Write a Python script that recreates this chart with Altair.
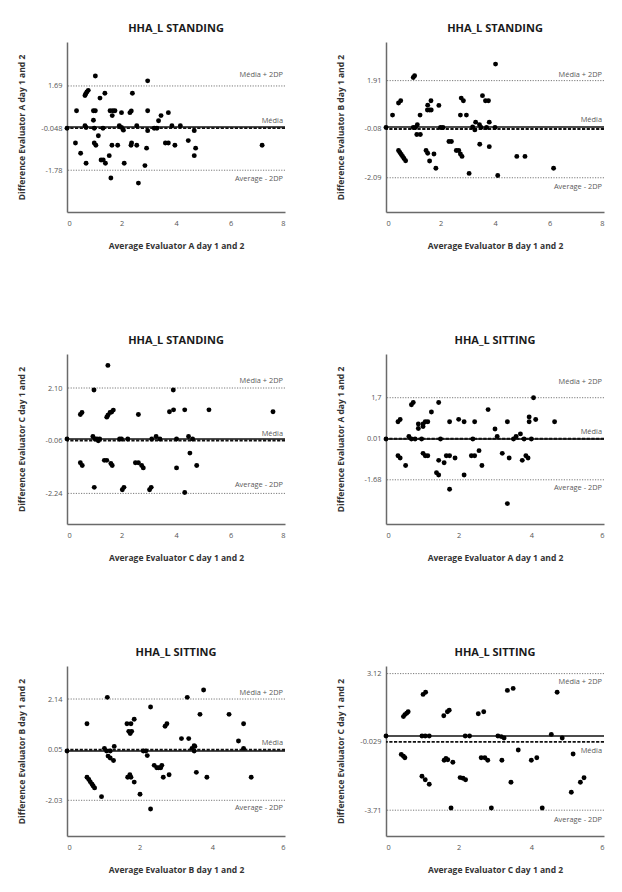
import altair as alt
import pandas as pd

FONT = "Open Sans"

# ---------------- Evaluator A, standing ----------------
a_stand_avg = [0.0, 1.04, 2.96, 0.66, 0.69, 0.73, 0.78, 1.39, 1.21, 2.40, 0.35, 0.97, 1.04, 0.97,
               1.58, 1.68, 1.76, 1.66, 2.00, 2.31, 2.36, 2.96, 3.45, 3.36, 3.72, 0.66, 0.70, 1.00,
               1.32, 1.92, 2.00, 2.07, 2.56, 2.96, 3.20, 3.30, 3.85, 4.16, 4.67, 1.15, 0.31, 1.00,
               1.06, 1.65, 1.86, 2.37, 2.35, 2.56, 2.92, 3.61, 3.72, 3.96, 4.45, 4.72, 4.67, 7.16,
               0.50, 0.70, 1.25, 1.33, 1.41, 1.55, 2.10, 2.86, 1.61, 2.62]
a_stand_diff = [-0.05, 2.10, 1.90, 1.30, 1.37, 1.44, 1.51, 1.39, 1.19, 1.39, 0.67, 0.67, 0.67, 0.28,
                0.67, 0.67, 0.67, 0.47, 0.59, 0.59, 0.66, 0.67, 0.47, 0.26, 0.59, 0.05, -0.02, -0.05,
                -0.05, 0.05, -0.02, -0.13, 0.05, -0.15, -0.05, -0.05, 0.05, 0.05, -0.15, -0.36, -0.66, -0.66,
                -0.75, -0.75, -0.75, -0.66, -0.75, -0.75, -0.87, -0.66, -0.66, -0.75, -0.56, -0.87, -1.18, -0.75,
                -1.08, -1.49, -1.36, -1.36, -1.49, -1.18, -1.49, -1.59, -2.10, -2.31]

# ---------------- Evaluator B, standing ----------------
b_stand_avg = [0.0, 4.02, 1.00, 1.05, 0.46, 0.54, 0.24, 0.46, 0.51, 0.56, 0.61, 0.66, 0.72, 1.00,
               1.08, 1.15, 1.13, 1.26, 1.25, 1.53, 1.52, 1.60, 1.66, 1.65, 1.94, 2.00, 2.09, 1.47,
               1.53, 1.60, 1.76, 1.83, 2.31, 2.40, 2.58, 2.67, 2.73, 2.79, 2.76, 2.84, 2.73, 2.95,
               3.05, 3.18, 3.26, 3.29, 3.43, 3.49, 3.54, 3.65, 3.76, 3.69, 3.79, 3.44, 3.79, 4.00,
               4.10, 4.80, 5.10, 6.15]
b_stand_diff = [-0.02, 2.59, 2.04, 2.11, 0.99, 1.08, 0.49, -0.97, -1.05, -1.13, -1.21, -1.30, -1.39, -0.02,
                -0.02, 0.09, -0.31, -0.31, 0.49, 0.90, 0.70, 0.70, 0.70, 1.08, 0.89, -0.02, -0.02, -0.97,
                -1.08, -1.40, -1.11, -1.70, -0.60, -0.60, -0.97, -0.97, -1.11, -1.21, 1.19, 1.08, 0.49, 0.49,
                -1.91, 0.0, -0.12, 0.20, 0.09, -0.02, 1.29, 1.08, 1.08, -0.02, 0.20, -0.71, -0.81, -0.02,
                -2.00, -1.21, -1.21, -1.70]

# ---------------- Evaluator C, standing ----------------
c_stand_avg = [0.0, 1.50, 0.99, 3.90, 0.49, 0.55, 1.46, 1.50, 1.58, 1.64, 1.70, 2.62, 3.76, 3.91,
               4.32, 5.21, 7.56, 0.95, 1.03, 1.10, 1.15, 1.20, 1.93, 2.00, 2.23, 3.11, 3.27, 3.41,
               4.02, 4.46, 4.61, 0.49, 0.56, 1.37, 1.46, 1.61, 1.66, 2.51, 2.62, 2.74, 2.80, 4.02,
               4.51, 4.76, 1.00, 2.03, 2.09, 3.03, 3.09, 4.32]
c_stand_diff = [0.0, 3.03, 2.02, 2.02, 1.01, 1.09, 0.90, 0.98, 1.09, 1.11, 1.19, 1.01, 1.12, 1.20,
                1.20, 1.20, 1.12, 0.10, 0.0, 0.0, -0.07, 0.0, 0.0, 0.0, 0.0, 0.0, 0.10, 0.0,
                0.0, 0.10, 0.0, -0.98, -1.09, -0.88, -0.88, -1.01, -1.09, -0.98, -0.98, -1.09, -1.19, -1.19,
                -0.58, -1.09, -1.99, -2.09, -1.99, -2.09, -1.99, -2.20]

# ---------------- Evaluator A, sitting ----------------
a_sit_avg = [0.0, 0.33, 0.39, 0.33, 0.39, 0.54, 0.63, 0.70, 0.80, 0.70, 0.75, 0.89, 0.89, 1.02,
             1.02, 1.08, 1.15, 0.98, 1.02, 1.08, 1.15, 1.25, 1.45, 1.45, 1.50, 1.39, 1.45, 1.60,
             1.66, 1.75, 1.75, 1.75, 1.90, 2.00, 2.15, 2.15, 2.39, 2.35, 2.44, 2.44, 2.56, 2.64,
             2.81, 3.00, 3.06, 3.20, 3.34, 3.39, 3.34, 3.51, 3.58, 3.70, 3.75, 3.80, 3.85, 3.91,
             3.94, 3.94, 4.00, 4.06, 4.12, 4.64]
a_sit_diff = [0.0, 0.71, 0.80, -0.69, -0.78, -1.09, 0.10, 0.0, 0.0, 1.41, 1.50, 0.62, 0.43, 0.51,
              0.62, 0.71, 0.71, 0.0, -0.59, -0.69, -0.69, 1.11, 1.50, -0.88, 0.0, -1.39, -1.48, -0.98,
              -0.69, -0.69, 0.71, -2.07, -0.78, 0.81, 0.71, -1.48, 0.0, -0.69, -0.69, 0.71, -0.48, -1.09,
              1.21, 0.41, 0.10, -0.59, 0.71, -0.78, -2.66, 0.0, 0.10, 0.21, -0.88, 0.0, -0.69, -0.78,
              0.91, 0.71, 0.0, 1.70, 0.80, 0.71]

# ---------------- Evaluator B, sitting ----------------
b_sit_avg = [0.0, 0.55, 0.55, 0.60, 0.64, 0.69, 0.72, 0.76, 0.95, 1.11, 1.03, 1.09, 1.19, 1.13,
             1.19, 1.28, 1.30, 1.65, 1.76, 1.85, 1.70, 1.74, 1.78, 1.67, 1.73, 1.76, 1.85, 2.01,
             2.10, 2.17, 2.21, 2.30, 2.30, 2.40, 2.47, 2.52, 2.58, 2.61, 2.65, 2.70, 2.75, 2.81,
             3.15, 3.35, 3.31, 3.44, 3.50, 3.52, 3.50, 3.56, 3.66, 3.76, 3.85, 4.46, 4.72, 4.86,
             4.86, 5.07]
b_sit_diff = [0.0, 1.12, -1.08, -1.17, -1.27, -1.37, -1.44, -1.52, -1.88, 2.21, 0.11, 0.0, 0.0, -0.21,
              -0.29, -0.39, 0.19, 1.12, 1.12, 1.31, 0.81, 0.72, 0.81, -1.08, -0.98, -1.08, -1.28, -1.78,
              0.0, 0.0, -0.19, 1.81, -2.39, -0.59, -0.69, -0.69, -0.69, -0.59, -1.08, 1.02, 1.12, -0.98,
              0.51, 0.51, 2.21, 0.11, 0.22, 0.19, 0.0, -0.88, 1.51, 2.51, -1.08, 1.51, 0.41, 1.12,
              0.11, -1.08]

# ---------------- Evaluator C, sitting ----------------
c_sit_avg = [0.0, 0.48, 0.52, 0.57, 0.61, 0.42, 0.48, 0.52, 1.02, 1.09, 0.99, 1.08, 1.19, 0.99,
             1.08, 1.19, 1.59, 1.69, 1.74, 1.60, 1.65, 1.70, 1.84, 1.79, 2.04, 2.12, 2.19, 2.18,
             2.30, 2.54, 2.69, 2.62, 2.72, 2.80, 2.90, 3.08, 3.17, 3.25, 3.19, 3.34, 3.50, 3.44,
             3.64, 4.00, 4.15, 4.30, 4.55, 4.71, 4.85, 5.15, 5.10, 5.35, 5.45]
c_sit_diff = [0.0, 0.97, 1.07, 1.14, 1.21, -0.92, -1.01, -1.09, 2.08, 2.19, 0.0, 0.0, 0.0, -2.01,
              -2.19, -2.41, 1.01, 1.21, 1.29, -1.21, -1.12, -1.19, -1.31, -3.60, -2.08, -2.11, -2.19, 0.0,
              0.0, 1.11, 1.21, -1.09, -1.09, -1.21, -3.60, 0.0, -0.03, -0.10, -1.21, 2.28, 2.38, -2.31,
              -0.70, -1.21, -1.09, -3.60, 0.08, 2.19, -0.10, -0.90, -2.81, -2.31, -2.09]

# Limits of agreement (upper, mean, lower) and how each is printed on the axis
limits = {
    "a_stand": ([1.69, -0.048, -1.78], ["1.69", "-0.048", "-1.78"]),
    "b_stand": ([1.91, -0.08, -2.09], ["1.91", "-0.08", "-2.09"]),
    "c_stand": ([2.10, -0.06, -2.24], ["2.10", "-0.06", "-2.24"]),
    "a_sit": ([1.70, 0.01, -1.68], ["1,7", "0.01", "-1.68"]),
    "b_sit": ([2.14, 0.05, -2.03], ["2.14", "0.05", "-2.03"]),
    "c_sit": ([3.12, -0.295, -3.71], ["3.12", "-0.029", "-3.71"]),
}
line_texts = ["Média + 2DP", "Média", "Average - 2DP"]

panels = [
    dict(key="a_stand", title="HHA_L STANDING", ev="A", avg=a_stand_avg, diff=a_stand_diff,
         xmax=8, ydom=[-3.5, 3.5], dys=(-11, -7, 9)),
    dict(key="b_stand", title="HHA_L STANDING", ev="B", avg=b_stand_avg, diff=b_stand_diff,
         xmax=8, ydom=[-3.5, 3.5], dys=(-6, -9, 9)),
    dict(key="c_stand", title="HHA_L STANDING", ev="C", avg=c_stand_avg, diff=c_stand_diff,
         xmax=8, ydom=[-3.5, 3.5], dys=(-7, -6, -8)),
    dict(key="a_sit", title="HHA_L SITTING", ev="A", avg=a_sit_avg, diff=a_sit_diff,
         xmax=6, ydom=[-3.5, 3.5], dys=(-16, -7, 8)),
    dict(key="b_sit", title="HHA_L SITTING", ev="B", avg=b_sit_avg, diff=b_sit_diff,
         xmax=6, ydom=[-3.5, 3.5], dys=(-6, -7, 8)),
    dict(key="c_sit", title="HHA_L SITTING", ev="C", avg=c_sit_avg, diff=c_sit_diff,
         xmax=6, ydom=[-5.0, 3.5], dys=(8, 9, 10)),
]


def label_expr(values, texts):
    parts = [f"abs(datum.value - ({v})) < 1e-6 ? '{t}'" for v, t in zip(values, texts)]
    return " : ".join(parts) + " : ''"


def make_panel(p):
    (upper, mean, lower), texts = limits[p["key"]]
    xs = alt.Scale(domain=[0, p["xmax"]], nice=False, zero=False)
    ys = alt.Scale(domain=p["ydom"], nice=False, zero=False)

    x_axis = alt.Axis(values=list(range(0, p["xmax"] + 1, 2)),
                      title=f"Average Evaluator {p['ev']} day 1 and 2")
    y_axis = alt.Axis(values=[upper, mean, lower], labelExpr=label_expr([upper, mean, lower], texts),
                      title=f"Difference Evaluator {p['ev']} day 1 and 2")

    def yenc(field):
        return alt.Y(field, scale=ys, axis=y_axis)

    def xenc(field):
        return alt.X(field, scale=xs, axis=x_axis)

    pts = pd.DataFrame({"avg": p["avg"], "diff": p["diff"]})

    limit_lines = alt.Chart(pd.DataFrame({"val": [upper, lower]})).mark_rule(
        color="#7a7a7a", strokeWidth=1, strokeDash=[1.2, 1.4]
    ).encode(y=yenc("val:Q"))

    zero_line = alt.Chart(pd.DataFrame({"val": [0.0]})).mark_rule(
        color="#111111", strokeWidth=1.4
    ).encode(y=yenc("val:Q"))

    mean_line = alt.Chart(pd.DataFrame({"val": [mean]})).mark_rule(
        color="#111111", strokeWidth=1.9, strokeDash=[3.2, 1.5]
    ).encode(y=yenc("val:Q"))

    labels = []
    for val, txt, dy in zip([upper, mean, lower], line_texts, p["dys"]):
        df = pd.DataFrame({"xe": [p["xmax"]], "val": [val], "txt": [txt]})
        labels.append(
            alt.Chart(df).mark_text(
                align="right", baseline="middle", dx=-2, dy=dy,
                font=FONT, fontSize=7.4, color="#5a5a5a"
            ).encode(x=xenc("xe:Q"), y=yenc("val:Q"), text="txt:N")
        )

    points = alt.Chart(pts).mark_circle(size=24, color="black", opacity=1).encode(
        x=xenc("avg:Q"), y=yenc("diff:Q")
    )

    return alt.layer(limit_lines, zero_line, mean_line, *labels, points).properties(
        width=218, height=170,
        title=alt.TitleParams(p["title"], anchor="middle", offset=8, font=FONT,
                              fontSize=11, fontWeight="bold", color="#1a1a1a"),
    )


rows = [alt.hconcat(make_panel(panels[i]), make_panel(panels[i + 1]), spacing=50)
        for i in range(0, 6, 2)]

chart = alt.vconcat(*rows, spacing=85).properties(
    padding={"left": 17, "top": 23, "right": 5, "bottom": 5}
).configure_view(stroke=None).configure_axis(
    grid=False, ticks=False, domainColor="#6a6a6a", domainWidth=1.5,
    labelFont=FONT, labelFontSize=7.4, labelColor="#555555",
    titleFont=FONT, titleFontSize=8.5, titleFontWeight="bold", titleColor="#333333",
).configure_axisY(
    minExtent=28, maxExtent=28, labelPadding=5, titlePadding=13
).configure_axisX(
    minExtent=15, maxExtent=15, labelPadding=7, titlePadding=14
)

chart.save("out.html", embed_options={"renderer": "svg", "actions": False})
